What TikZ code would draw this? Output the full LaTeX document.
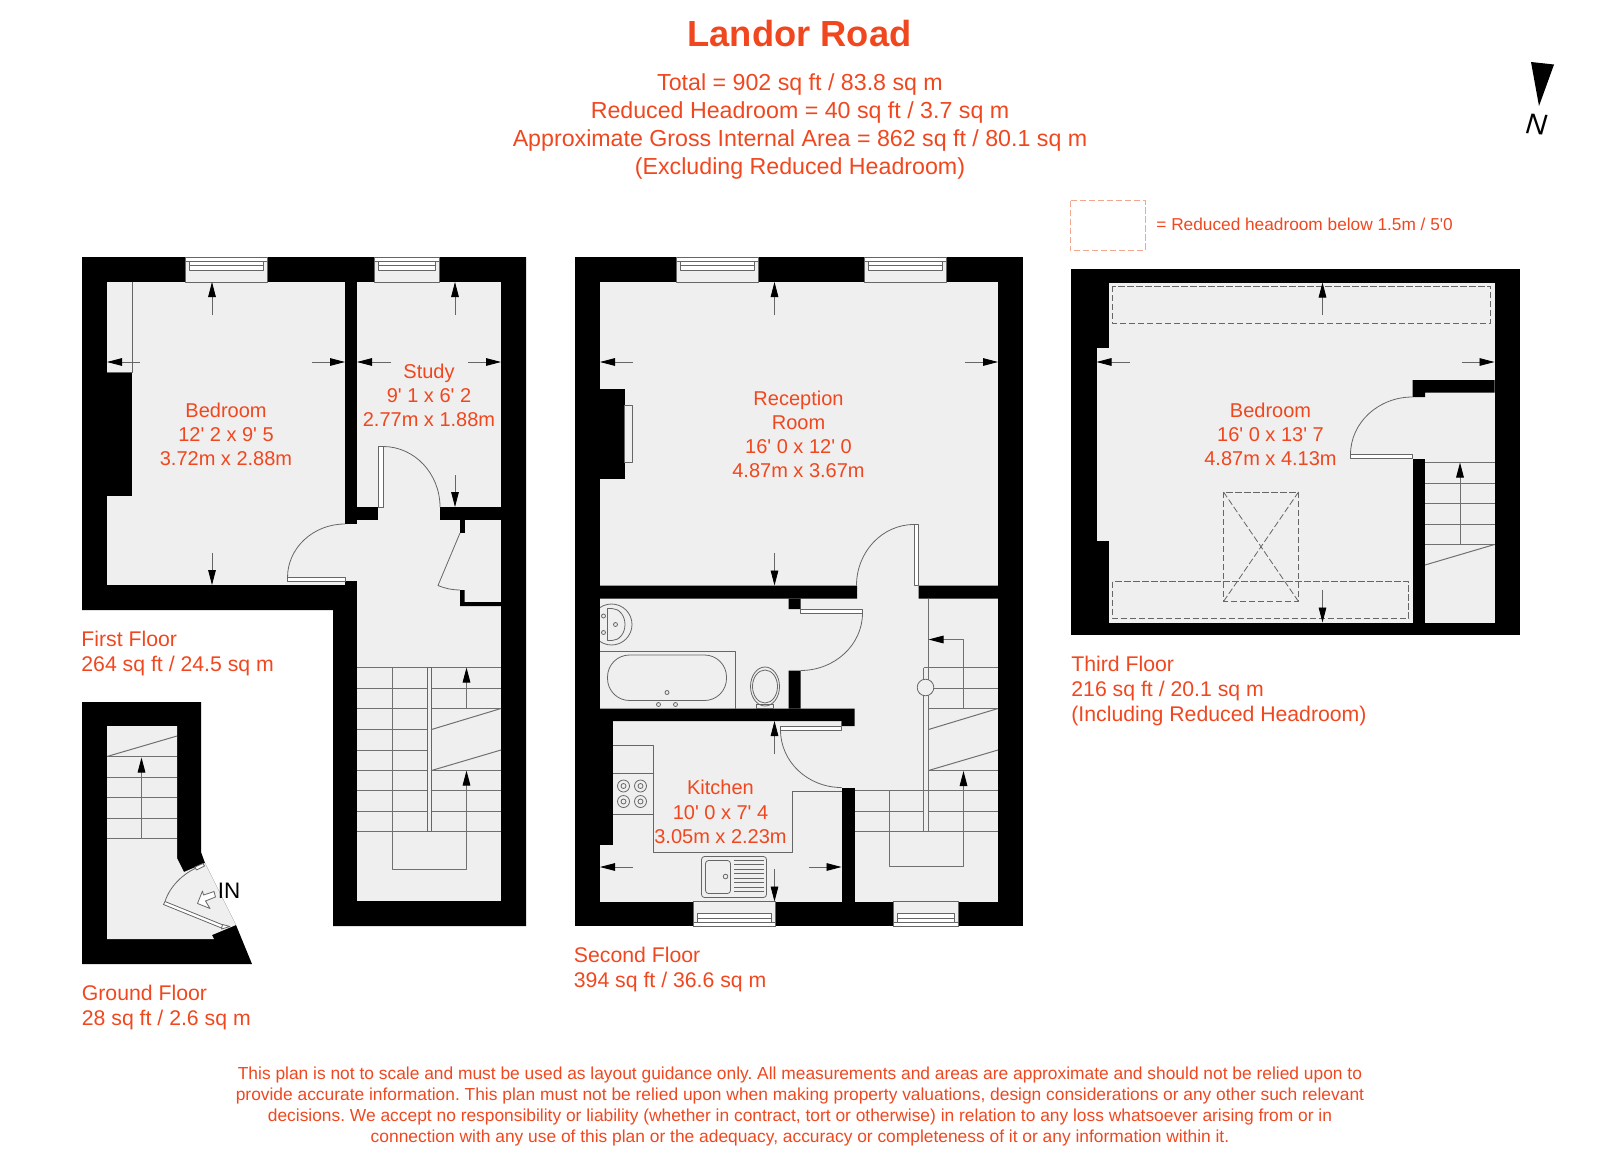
\documentclass[tikz,border=0pt]{standalone}
\usepackage{fontspec}
\usetikzlibrary{arrows.meta}
\newfontfamily\planfont{Liberation Sans}
\definecolor{planred}{HTML}{F0471F}
\definecolor{planfloor}{HTML}{EFEFEF}
\definecolor{planline}{HTML}{666666}
\definecolor{stairgrey}{HTML}{707070}
\definecolor{legendline}{HTML}{F2A88F}
\tikzset{
	roomlabel/.style={text=planred,align=center,inner sep=0pt,font=\planfont\frenchspacing\fontsize{10}{12.1}\selectfont},
	floorlabel/.style={text=planred,align=left,inner sep=0pt,anchor=west,font=\planfont\frenchspacing\fontsize{10.62}{12.7}\selectfont},
	headlabel/.style={text=planred,align=center,inner sep=0pt,font=\planfont\frenchspacing\fontsize{11.6}{13.85}\selectfont},
	wall/.style={fill=black},
	floorarea/.style={fill=planfloor},
	thinline/.style={draw=planline,line width=.4pt},
	stairline/.style={draw=stairgrey,line width=.5pt},
	doorleaf/.style={draw=planline,line width=.4pt,fill=white},
	dashedline/.style={draw=planline,line width=.4pt,dash pattern=on 3.2pt off 1.3pt},
}
\begin{document}
\begin{tikzpicture}[x=.5pt,y=-.5pt,>={Stealth[length=7.5pt,width=3.8pt,inset=0pt,color=black]}, line join=round]
	\useasboundingbox (0,0) rectangle (1600,1161);
	% titles
	\node[text=planred,inner sep=0pt,font=\planfont\bfseries\fontsize{18.15}{20}\selectfont] (title) at (799.5,33.5) {Landor Road};
	\node[headlabel] (areas) at (800,126.5) {Total = 902 sq ft / 83.8 sq m\\Reduced Headroom = 40 sq ft / 3.7 sq m\\Approximate Gross Internal Area = 862 sq ft / 80.1 sq m\\(Excluding Reduced Headroom)};
	% north + legend
	\fill (1531,62) -- (1554,64.5) -- (1539,106) -- cycle;
	\node[inner sep=0pt,rotate=-5,font=\planfont\itshape\fontsize{14.5}{16}\selectfont] (north) at (1536.5,124) {N};
	\draw[legendline,line width=.4pt,dash pattern=on 3.2pt off 1.3pt] (1070,200.5) rectangle (1145,250.5);
	\node[text=planred,inner sep=0pt,anchor=west,font=\planfont\frenchspacing\fontsize{8.63}{10}\selectfont] (legend) at (1156,224.5) {= Reduced headroom below 1.5m / 5'0};

	% first floor
	\fill[wall] (82,257) -- (526,257) -- (526,926) -- (333,926) -- (333,610) -- (82,610) -- cycle;
	\fill[floorarea] (107,282) rectangle (345,585);
	\fill[floorarea] (357,282) rectangle (501,507);
	\fill[floorarea] (357,520) rectangle (501,901);
	\fill[floorarea] (345,524) rectangle (357,581);
	\fill[floorarea] (378,505) rectangle (440,522);
	\fill[wall] (107,372) rectangle (132,496);
	\fill[wall] (460,520) rectangle (464.5,533);
	\fill[wall] (460,590) rectangle (464.5,606) (460,602) rectangle (501,606);
	\draw[thinline] (132,282) -- (132,372) -- (107,372);
	\draw[doorleaf] (287.5,577.5) rectangle (345,581.5);
	\draw[thinline] (287.5,577.5) arc[start angle=180,end angle=270,x radius=57.5,y radius=53.5];
	\draw[doorleaf] (378.5,446.5) rectangle (383,507);
	\draw[thinline] (383,446.5) arc[start angle=-90,end angle=0,x radius=57,y radius=60.5];
	\draw[thinline] (460,533) -- (438,585.5) to[bend right=10] (460,590);
	% first floor stairs
	\foreach \y in {667.5,688.5,708.5,770.5,790.5,811.5,831.5} \draw[stairline] (357,\y) -- (501,\y);
	\foreach \y in {729.5,750} \draw[stairline] (357,\y) -- (427.5,\y);
	\draw[doorleaf,fill=planfloor] (427.5,667.5) rectangle (431.5,831.5);
	\draw[stairline] (431.5,729.5) -- (501,708.5) (431.5,770.5) -- (501,750);
	\draw[stairline,->] (392.5,667.5) -- (392.5,869.5) -- (466.5,869.5) -- (466.5,770.5);
	\draw[stairline,->] (466.5,708.5) -- (466.5,667.5);

	% ground floor
	\fill[wall] (82,702) -- (201,702) -- (201,852) -- (205,863) -- (236,925) -- (252,964) -- (82,964) -- cycle;
	\fill[floorarea] (107,726) -- (177,726) -- (177,858) -- (184,872) -- (205,863) -- (236,925) -- (212,935) -- (214,939) -- (107,939) -- cycle;
	\foreach \y in {756.5,777,797.5,818,838.5} \draw[stairline] (107,\y) -- (177,\y);
	\draw[stairline] (107,756.5) -- (177,736);
	\draw[stairline,->] (141.5,838.5) -- (141.5,757.5);
	\draw[doorleaf] (165,901.5) -- (223,925) -- (221.5,928) -- (163.5,904.5) -- cycle;
	\draw[doorleaf] (195,867) -- (203,863.5) -- (204.5,866) -- (196.5,870) -- cycle;
	\draw[doorleaf] (222.5,924.5) -- (230,926.5) -- (221.5,929) -- cycle;
	\draw[thinline] (165,901.5) .. controls (170,886) and (183,874) .. (196,868);
	\draw[thinline,fill=white] (197.5,903.5) -- (202.5,891) -- (203.5,895) -- (214,891.5) -- (215.5,897) -- (205.5,901) -- (210,908.5) -- cycle;
	\node[inner sep=0pt,font=\planfont\fontsize{11.2}{13}\selectfont] (entrance) at (229,891) {IN};

	% second floor
	\fill[wall] (575,257) rectangle (1022.5,926);
	\fill[floorarea] (600,282) rectangle (998,901.5);
	\fill[wall] (600,388.5) rectangle (624.5,479);
	\draw[thinline] (624.5,405) rectangle (632.5,462.5);
	\fill[wall] (600,585.5) rectangle (857,598.5) (918.5,585.5) rectangle (998,598.5);
	\fill[wall] (788.5,598.5) rectangle (800.5,609) (788.5,670.5) rectangle (800.5,708.5);
	\fill[wall] (600,708.5) rectangle (854.5,721) (841.5,721) rectangle (854.5,726);
	\fill[wall] (600,721) rectangle (612.5,844.5);
	\fill[wall] (841.5,787.5) rectangle (854.5,901.5);
	% doors
	\draw[doorleaf] (914,524.5) rectangle (918.5,585.5);
	\draw[thinline] (914,524.5) arc[start angle=-90,end angle=-180,x radius=57.5,y radius=61];
	\draw[doorleaf] (800.5,609) rectangle (862.5,613);
	\draw[thinline] (862.5,613) arc[start angle=0,end angle=90,x radius=62,y radius=57.5];
	\draw[doorleaf] (780.5,726) rectangle (841.5,730) (841.5,721) -- (841.5,726);
	\draw[thinline] (780.5,730) arc[start angle=180,end angle=90,x radius=61,y radius=57.5];
	% bathroom
	\begin{scope}
		\clip (600,598.5) rectangle (650,650);
		\draw[thinline] (611.5,624.5) circle (20.5);
	\end{scope}
	\draw[thinline] (607.5,608.5) -- (612,608.5) arc[start angle=-90,end angle=90,x radius=13,y radius=16] -- (607.5,640.5) -- cycle;
	\foreach \x/\y/\r in {603.5/616/2,603.5/632.5/2,615.5/624.5/2,667/692.5/2,658.5/704.5/2,675.5/704.5/2} \draw[thinline] (\x,\y) circle (\r);
	\draw[thinline] (600,651.5) -- (735,651.5) -- (735,708.5);
	\draw[thinline,rounded corners=11pt] (607.5,655) rectangle (726.5,700.5);
	\draw[thinline] (765,686.5) ellipse [x radius=14.5,y radius=19.5];
	\draw[thinline] (765,686.5) ellipse [x radius=12.5,y radius=16.5];
	\draw[thinline] (756.5,708.5) rectangle (773.5,704.5);
	% kitchen
	\draw[thinline] (612.5,745.5) -- (653,745.5) -- (653,852.5) -- (792.5,852.5) -- (792.5,791.5) -- (841.5,791.5);
	\draw[thinline] (612.5,773.5) -- (653,773.5) (612.5,814.5) -- (653,814.5);
	\foreach \x/\y in {623.5/786,640.5/786,623.5/801.5,640.5/801.5} {
		\draw[thinline] (\x,\y) circle (6);
		\draw[thinline] (\x,\y) circle (2.5);
	}
	\draw[thinline,rounded corners=1.5pt] (701.5,856.5) rectangle (766.5,897.5);
	\draw[thinline,rounded corners=1.5pt] (705.5,860.5) rectangle (730.5,893.5);
	\draw[thinline] (725.5,876.5) circle (2.3);
	\foreach \y in {860,864.5,869,873.5,878,882.5,887,891.5} \draw[thinline] (734,\y) -- (763.5,\y);
	% second floor stairs
	\draw[stairline] (928.5,598.5) -- (928.5,831.5) (923.5,667.5) -- (923.5,831.5);
	\draw[stairline] (923.5,667.5) -- (998,667.5) (925,688) -- (998,688) (928.5,708.5) -- (998,708.5) (928.5,770.5) -- (998,770.5);
	\draw[stairline] (854.5,790.5) -- (998,790.5) (854.5,811.5) -- (923.5,811.5) (928.5,811.5) -- (998,811.5) (854.5,831.5) -- (998,831.5);
	\draw[stairline] (928.5,729.5) -- (998,708.5) (928.5,770.5) -- (998,750);
	\draw[thinline,fill=planfloor] (925.5,687.5) circle (8.3);
	\draw[stairline,->] (963.5,708.5) -- (963.5,639.5) -- (928.5,639.5);
	\draw[stairline,->] (889,790.5) -- (889,866.5) -- (963.5,866.5) -- (963.5,771);

	% third floor
	\fill[wall] (1071,269) rectangle (1519.5,635);
	\fill[floorarea] (1109,282.5) rectangle (1494.5,622.5);
	\fill[floorarea] (1096.5,348) rectangle (1109,540.5);
	\fill[wall] (1412.5,458.5) rectangle (1425,622.5);
	\fill[wall] (1412.5,380) rectangle (1494.5,392.5) (1412.5,392.5) rectangle (1425,397);
	\draw[doorleaf] (1350.5,454.5) rectangle (1412.5,458.5);
	\draw[thinline] (1350.5,454.5) arc[start angle=180,end angle=270,x radius=62,y radius=57.5];
	\foreach \y in {462.5,483.5,503.5,524,544.5} \draw[stairline] (1425,\y) -- (1494.5,\y);
	\draw[stairline] (1425,565) -- (1494.5,544.5);
	\draw[stairline,->] (1460,544.5) -- (1460,462.5);
	\draw[dashedline] (1112.5,286) rectangle (1490.5,323.5);
	\draw[dashedline] (1112.5,581.5) rectangle (1408.5,618.5);
	\draw[dashedline] (1223.5,492) rectangle (1298.5,601.5);
	\draw[dashedline] (1223.5,492) -- (1298.5,601.5) (1298.5,492) -- (1223.5,601.5);

	% windows
	\foreach \a/\b in {185/267,374/439,676.5/758.5,864/946} {
		\draw[thinline,fill=planfloor] (\a,257) rectangle (\b,282);
		\draw[thinline,fill=white] (\a,257) rectangle (\b,261);
		\draw[thinline,fill=white] (\a+4,261.5) rectangle (\b-4,270);
		\draw[thinline] (\a+4,265.5) -- (\b-4,265.5);
	}
	\foreach \a/\b in {693.5/775,893.5/958.5} {
		\draw[thinline,fill=planfloor] (\a,901.5) rectangle (\b,926);
		\draw[thinline,fill=white] (\a,922.5) rectangle (\b,926);
		\draw[thinline,fill=white] (\a+4,913.5) rectangle (\b-4,922.5);
		\draw[thinline] (\a+4,918) -- (\b-4,918);
	}
	% measure arrows
	\foreach \a/\b/\c/\d in {212/315/212/282,455/315/455/282,140/362/107/362,312/362/345/362,391/362/357/362,468/362/501/362,212/553/212/585,455/475/455/507,
		774.5/315/774.5/282,633/362/600/362,965/362/998/362,774.5/553/774.5/585.5,774.5/754/774.5/721,632.5/867/600/867,809/867/841.5/867,774.5/869/774.5/901.5,
		1322.5/315/1322.5/282.5,1129.5/362/1096.5/362,1461.5/362/1494.5/362,1322.5/589.5/1322.5/622.5}
		\draw[thinline,->] (\a,\b) -- (\c,\d);

	% room names
	\node[roomlabel] (bedroomA) at (226,434.5) {Bedroom\\12' 2 x 9' 5\\3.72m x 2.88m};
	\node[roomlabel] (study) at (429,395.5) {Study\\9' 1 x 6' 2\\2.77m x 1.88m};
	\node[roomlabel] (reception) at (798.5,434.5) {Reception\\Room\\16' 0 x 12' 0\\4.87m x 3.67m};
	\node[roomlabel] (kitchen) at (720.5,812) {Kitchen\\10' 0 x 7' 4\\3.05m x 2.23m};
	\node[roomlabel] (bedroomB) at (1270.5,434.5) {Bedroom\\16' 0 x 13' 7\\4.87m x 4.13m};
	% floor names
	\node[floorlabel] (first) at (81,653.5) {First Floor\\264 sq ft / 24.5 sq m};
	\node[floorlabel] (ground) at (81.5,1007.5) {Ground Floor\\28 sq ft / 2.6 sq m};
	\node[floorlabel] (second) at (573.5,969.5) {Second Floor\\394 sq ft / 36.6 sq m};
	\node[floorlabel] (third) at (1071,691) {Third Floor\\216 sq ft / 20.1 sq m\\(Including Reduced Headroom)};
	\node[text=planred,align=center,inner sep=0pt,font=\planfont\frenchspacing\fontsize{8.69}{10.35}\selectfont] (notes) at (800,1106.5) {This plan is not to scale and must be used as layout guidance only. All measurements and areas are approximate and should not be relied upon to\\provide accurate information. This plan must not be relied upon when making property valuations, design considerations or any other such relevant\\decisions. We accept no responsibility or liability (whether in contract, tort or otherwise) in relation to any loss whatsoever arising from or in\\connection with any use of this plan or the adequacy, accuracy or completeness of it or any information within it.};
\end{tikzpicture}
\end{document}
